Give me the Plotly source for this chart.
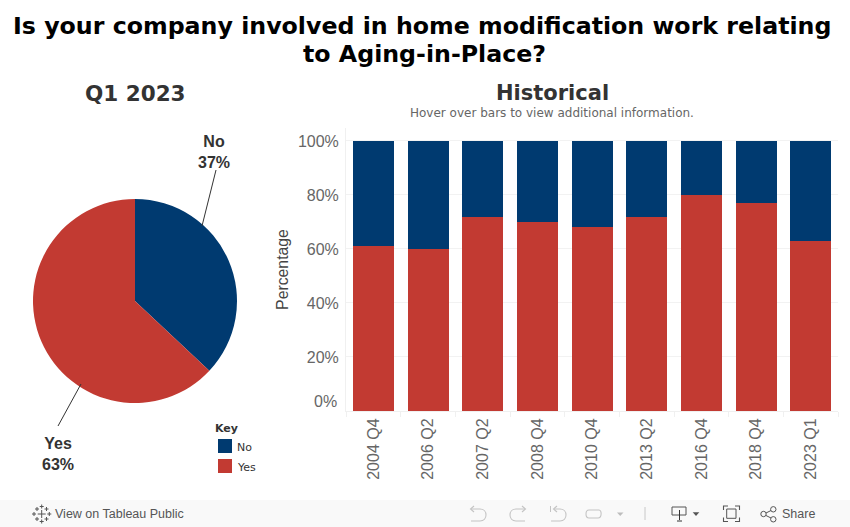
import plotly.graph_objects as go

W, H = 850, 527
quarters = ["2004 Q4", "2006 Q2", "2007 Q2", "2008 Q4", "2010 Q4", "2013 Q2", "2016 Q4", "2018 Q4", "2023 Q1"]
yes_pct = [61, 60, 72, 70, 68, 72, 80, 77, 63]
no_pct = [39, 40, 28, 30, 32, 28, 20, 23, 37]
pie_labels = ["No", "Yes"]
pie_values = [37, 63]
y_ticks = [0, 20, 40, 60, 80, 100]
y_tick_text = ["", "20%", "40%", "60%", "80%", "100%"]

NAVY = "#003a70"
RED = "#c23a32"
SANS = "Liberation Sans"
DJ = "DejaVu Sans"


def px(x):
    return x / W


def py(y):
    return 1 - y / H


def note(text, x, y, size, color, family=SANS, anchor="center"):
    return dict(text=text, x=px(x), y=py(y), xref="paper", yref="paper", showarrow=False,
                xanchor=anchor, yanchor="middle", align="center",
                font=dict(size=size, color=color, family=family))


def seg(x0, y0, x1, y1, color="#333333", width=1):
    return dict(type="line", x0=px(x0), y0=py(y0), x1=px(x1), y1=py(y1), xref="paper", yref="paper",
                line=dict(color=color, width=width))


def box(x0, y0, x1, y1, fill):
    return dict(type="rect", x0=px(x0), y0=py(y0), x1=px(x1), y1=py(y1), xref="paper", yref="paper",
                fillcolor=fill, line=dict(width=0))


def outline(x0, y0, x1, y1, color="#555555"):
    return dict(type="rect", x0=px(x0), y0=py(y0), x1=px(x1), y1=py(y1), xref="paper", yref="paper",
                line=dict(color=color, width=1))


def ring(cx, cy, r, color="#555555"):
    return dict(type="circle", x0=px(cx - r), y0=py(cy - r), x1=px(cx + r), y1=py(cy + r),
                xref="paper", yref="paper", line=dict(color=color, width=1))


def path(spec, color="#c4c4c4", width=1.1, fill=None):
    # spec: tokens; numbers come in x, y pairs of pixel positions
    out, pending = [], None
    for tok in spec.split():
        if tok.isalpha():
            out.append(tok)
        elif pending is None:
            pending = float(tok)
        else:
            out.append(f"{px(pending):.5f},{py(float(tok)):.5f}")
            pending = None
    shape = dict(type="path", path=" ".join(out), xref="paper", yref="paper", line=dict(color=color, width=width))
    if fill:
        shape["fillcolor"] = fill
        shape["line"] = dict(width=0)
    return shape


def cross(cx, cy, arm, color="#555555"):
    return [seg(cx - arm, cy, cx + arm, cy, color), seg(cx, cy - arm, cx, cy + arm, color)]


fig = go.Figure()
fig.add_trace(go.Pie(labels=pie_labels, values=pie_values, sort=False, direction="clockwise", rotation=0,
                     marker=dict(colors=[NAVY, RED], line=dict(width=0)), textinfo="none", showlegend=False,
                     domain=dict(x=[px(33), px(237)], y=[py(403), py(199)])))
fig.add_trace(go.Bar(name="Yes", x=quarters, y=yes_pct, marker=dict(color=RED, line=dict(width=0)), width=0.75,
                     showlegend=False))
fig.add_trace(go.Bar(name="No", x=quarters, y=no_pct, marker=dict(color=NAVY, line=dict(width=0)), width=0.75,
                     showlegend=False))

shapes = [
    dict(type="rect", x0=0, x1=1, y0=0, y1=py(500), xref="paper", yref="paper",
         fillcolor="#f9f9f9", line=dict(width=0), layer="below"),
    seg(216, 170, 202, 226), seg(81, 384, 58, 426),
    box(218, 439, 232, 453, NAVY), box(218, 459, 232, 473, RED),
    # toolbar: undo, redo, revert, refresh
    path("M 471 509 L 480 509 C 488 509 488 521 480 521 L 471 521"),
    path("M 474 506 L 470.5 509 L 474 512"),
    path("M 525 509 L 516 509 C 508 509 508 521 516 521 L 525 521"),
    path("M 522 506 L 525.5 509 L 522 512"),
    path("M 554 509 L 560 509 C 568 509 568 521 560 521 L 551 521"),
    path("M 557 506 L 553.5 509 L 557 512"),
    seg(550.5, 506, 550.5, 512, "#c4c4c4"),
    path("M 599 510 L 589 510 C 585 510 585 518 589 518 L 598 518 C 602 518 602 510 599 510"),
    path("M 617 512.5 L 623.5 512.5 L 620.2 516 Z", fill="#bdbdbd"),
    seg(645, 507, 645, 520, "#c8c8c8"),
    # toolbar: download
    outline(672, 507, 686, 515),
    seg(679.5, 510, 679.5, 520), seg(677, 521, 682, 521),
    path("M 692.7 512.3 L 699.3 512.3 L 696 516 Z", fill="#555555"),
    # toolbar: fullscreen
    outline(726.7, 509, 736, 518.3),
    path("M 723.5 510 L 723.5 506 L 728 506", "#555555"), path("M 735 506 L 739.5 506 L 739.5 510", "#555555"),
    path("M 723.5 517.5 L 723.5 521.5 L 728 521.5", "#555555"), path("M 735 521.5 L 739.5 521.5 L 739.5 517.5", "#555555"),
    # toolbar: share
    ring(773.3, 509.3, 2.7), ring(763.5, 514, 2.7), ring(773.3, 519.3, 2.7),
    seg(766, 513, 771, 510.5, "#555555"), seg(766, 515.5, 771, 518, "#555555"),
]
# Tableau mark
shapes += cross(41.7, 514, 4)
for cx, cy in [(41.7, 506.5), (41.7, 521.5), (34, 514), (49.3, 514), (37, 509), (46.5, 509), (37, 519), (46.5, 519)]:
    shapes += cross(cx, cy, 2)

annotations = [
    note("<b>Is your company involved in home modification work relating</b>", 421.5, 26, 23.7, "black", DJ),
    note("<b>to Aging-in-Place?</b>", 424, 54, 23.7, "black", DJ),
    note("<b>Q1 2023</b>", 135, 93, 21.5, "#333333", DJ),
    note("<b>Historical</b>", 552, 93, 21, "#333333", DJ),
    note("Hover over bars to view additional information.", 551.5, 113, 12, "#666666", DJ),
    note("<b>No<br>37%</b>", 214, 152.5, 16, "#333333"),
    note("<b>Yes<br>63%</b>", 58, 453.5, 16, "#333333"),
    note("0%", 339, 401, 16, "#666666", anchor="right"),
    note("<b>Key</b>", 213, 428, 11, "#333333", DJ, anchor="left"),
    note("No", 235, 447, 11, "#333333", DJ, anchor="left"),
    note("Yes", 235, 467, 11, "#333333", DJ, anchor="left"),
    note("View on Tableau Public", 53, 514, 12.5, "#555555", SANS, anchor="left"),
    note("Share", 780, 514, 12.5, "#555555", SANS, anchor="left"),
]

fig.update_layout(
    width=W, height=H, margin=dict(l=0, r=0, t=0, b=0), paper_bgcolor="white", plot_bgcolor="white",
    barmode="stack", autosize=False, showlegend=False,
    xaxis=dict(domain=[px(346), px(838)], range=[-0.5, 8.5], type="category", categoryorder="array",
               categoryarray=quarters, tickangle=-90, showline=True, linecolor="#f0f0f0", ticks="outside",
               tickson="boundaries", ticklen=5, tickcolor="#f0f0f0", showgrid=False, ticklabelstandoff=0,
               tickfont=dict(family=SANS, size=16, color="#666666")),
    yaxis=dict(domain=[py(411), py(128)], range=[0, 104.8], tickvals=y_ticks, ticktext=y_tick_text,
               showline=True, linecolor="#f0f0f0", showgrid=True, gridcolor="#f2f2f2", zeroline=False,
               ticks="outside", ticklen=3, tickcolor="rgba(0,0,0,0)",
               tickfont=dict(family=SANS, size=16, color="#666666"),
               title=dict(text="Percentage", standoff=5, font=dict(family=SANS, size=15.8, color="#444444"))),
    shapes=shapes, annotations=annotations,
)
fig.write_html("out.html", post_script="document.body.style.margin='0';", config=dict(displayModeBar=False))
